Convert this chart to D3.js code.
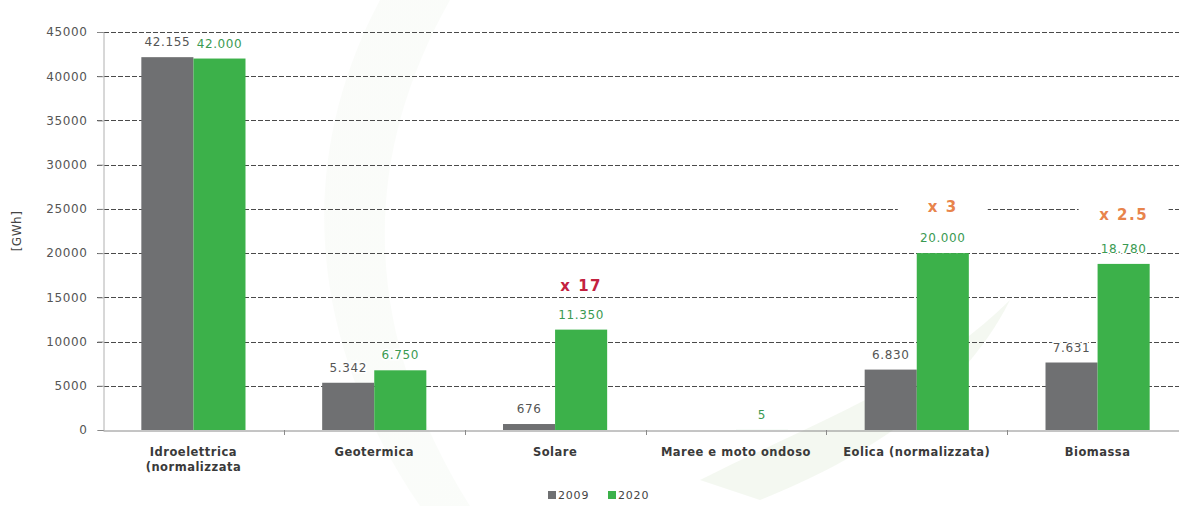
<!DOCTYPE html>
<html><head><meta charset="utf-8">
<script src="https://cdn.jsdelivr.net/npm/d3@7"></script>
<style>
html,body{margin:0;padding:0;background:#fff;}
svg{display:block;}
text{font-family:"DejaVu Sans",Verdana,sans-serif;}
</style></head>
<body>
<svg id="chart" width="1179" height="506"></svg>
<script>
const categories = ["Idroelettrica\n(normalizzata", "Geotermica", "Solare", "Maree e moto ondoso", "Eolica (normalizzata)", "Biomassa"];
const seriesNames = ["2009", "2020"];
const values2009 = [42155, 5342, 676, 0, 6830, 7631];
const values2020 = [42000, 6750, 11350, 5, 20000, 18780];
const labels2009 = ["42.155", "5.342", "676", "", "6.830", "7.631"];
const labels2020 = ["42.000", "6.750", "11.350", "5", "20.000", "18.780"];
const yTicks = [0, 5000, 10000, 15000, 20000, 25000, 30000, 35000, 40000, 45000];
const annotCategories = ["Solare", "Eolica (normalizzata)", "Biomassa"];
const annotTexts = ["x 17", "x 3", "x 2.5"];
const annotLevels = [16300, 25200, 24300];
const annotColors = ["#c3213f", "#e8844c", "#e8844c"];

const colors = {"2009": "#6f7072", "2020": "#3cb14a"};
const labelColors = {"2009": "#555555", "2020": "#3a9a52"};

const svg = d3.select("#chart");

// subtle background swoosh
const defs = svg.append("defs");
const g1 = defs.append("linearGradient").attr("id","sw").attr("x1","0").attr("y1","0").attr("x2","1").attr("y2","1");
g1.append("stop").attr("offset","0").attr("stop-color","#eef3ea").attr("stop-opacity",0.9);
g1.append("stop").attr("offset","1").attr("stop-color","#e4efe0").attr("stop-opacity",0.6);
svg.append("path")
  .attr("d","M 380 0 C 300 150, 300 330, 420 506 L 470 506 C 360 330, 360 160, 450 0 Z")
  .attr("fill","url(#sw)").attr("opacity",0.3);
svg.append("path")
  .attr("d","M 700 480 C 820 420, 930 380, 1010 300 C 960 400, 860 460, 760 500 Z")
  .attr("fill","#e3eedd").attr("opacity",0.4);

const margin = {left: 103, right: -9, top: 32, bottom: 76};
const W = 1179, H = 506;

const x0 = d3.scaleBand().domain(categories).range([margin.left, W - margin.right]).paddingInner(0).paddingOuter(0);
const bw = x0.bandwidth();
const x1 = d3.scaleBand().domain(seriesNames).range([bw * 0.212, bw * 0.788]).padding(0);
const y = d3.scaleLinear().domain([0, 45000]).range([H - margin.bottom, margin.top]);

// gridlines
const grid = svg.append("g");
grid.selectAll("line").data(yTicks.filter(d => d > 0)).join("line")
  .attr("x1", margin.left - 6).attr("x2", W)
  .attr("y1", d => Math.round(y(d)) + 0.5).attr("y2", d => Math.round(y(d)) + 0.5)
  .attr("stroke", "#4a4a4a").attr("stroke-width", 1).attr("stroke-dasharray", "5,2");

// y axis
const yAxis = d3.axisLeft(y).tickValues(yTicks).tickFormat(d => String(d)).tickSize(6).tickPadding(10);
const ya = svg.append("g").attr("transform", `translate(${margin.left + 0.5},0)`).call(yAxis);
ya.select(".domain").attr("stroke", "#b0b0b0");
ya.selectAll(".tick line").attr("stroke", "#888");
ya.selectAll(".tick text").attr("fill", "#555").attr("font-size", "12px").attr("letter-spacing", "0.6px");

// bars
const data = categories.map((c, i) => ({cat: c, vals: [
  {s: "2009", v: values2009[i], l: labels2009[i]},
  {s: "2020", v: values2020[i], l: labels2020[i]}
]}));
const groups = svg.append("g").selectAll("g").data(data).join("g")
  .attr("transform", d => `translate(${x0(d.cat)},0)`);
groups.selectAll("rect").data(d => d.vals).join("rect")
  .attr("x", d => x1(d.s)).attr("width", x1.bandwidth())
  .attr("y", d => y(d.v)).attr("height", d => y(0) - y(d.v))
  .attr("fill", d => colors[d.s]);
groups.selectAll("text.val").data(d => d.vals.filter(v => v.l !== "")).join("text")
  .attr("class", "val")
  .attr("x", d => x1(d.s) + x1.bandwidth() / 2)
  .attr("y", d => y(d.v) - 11)
  .attr("text-anchor", "middle")
  .attr("font-size", "12px")
  .attr("letter-spacing", "0.6px")
  .attr("fill", d => labelColors[d.s])
  .attr("stroke", "#fff").attr("stroke-width", 3).attr("paint-order", "stroke")
  .text(d => d.l);

// x axis
const xAxis = d3.axisBottom(x0).tickSize(0).tickFormat("");
const xa = svg.append("g").attr("transform", `translate(0,${y(0) + 0.5})`).call(xAxis);
xa.select(".domain").attr("stroke", "#8a8a8a");
// tick marks between categories
svg.append("g").selectAll("line").data(categories.slice(1)).join("line")
  .attr("x1", d => Math.round(x0(d)) + 0.5).attr("x2", d => Math.round(x0(d)) + 0.5)
  .attr("y1", y(0)).attr("y2", y(0) + 5).attr("stroke", "#8a8a8a");

// category labels
const cl = svg.append("g").selectAll("text").data(categories).join("text")
  .attr("x", d => x0(d) + bw / 2)
  .attr("y", 456)
  .attr("text-anchor", "middle")
  .attr("font-size", "11.5px")
  .attr("font-weight", "bold")
  .attr("letter-spacing", "0.5px")
  .attr("fill", "#3a3a3a");
cl.each(function(d) {
  const lines = d.split("\n");
  const t = d3.select(this);
  lines.forEach((ln, i) => {
    t.append("tspan").attr("x", x0(d) + bw / 2).attr("dy", i === 0 ? 0 : 15).text(ln);
  });
});

// annotations
const annots = annotTexts.map((t, i) => ({cat: annotCategories[i], t, v: annotLevels[i], c: annotColors[i]}));
const ag = svg.append("g").selectAll("g").data(annots).join("g")
  .attr("transform", d => `translate(${x0(d.cat) + x1("2020") + x1.bandwidth() / 2},${y(d.v)})`);
ag.append("rect").attr("x", -45).attr("y", -12).attr("width", 90).attr("height", 22).attr("fill", "#fff");
ag.append("text").attr("text-anchor", "middle").attr("dy", "0.35em")
  .attr("font-size", "15px").attr("font-weight", "bold").attr("letter-spacing", "1.5px").attr("fill", d => d.c)
  .text(d => d.t);

// y label
svg.append("text").attr("transform", "translate(21,231) rotate(-90)")
  .attr("text-anchor", "middle").attr("font-size", "12px").attr("letter-spacing", "0.5px").attr("fill", "#444").text("[GWh]");

// legend
const lg = svg.append("g").attr("transform", "translate(548,499)");
const li = lg.selectAll("g").data(seriesNames).join("g").attr("transform", (d, i) => `translate(${i * 60},0)`);
li.append("rect").attr("x", 0).attr("y", -8).attr("width", 8).attr("height", 8).attr("fill", d => colors[d]);
li.append("text").attr("x", 10).attr("y", 0).attr("font-size", "11px").attr("letter-spacing", "0.8px").attr("fill", "#444").text(d => d);
</script>
</body></html>
